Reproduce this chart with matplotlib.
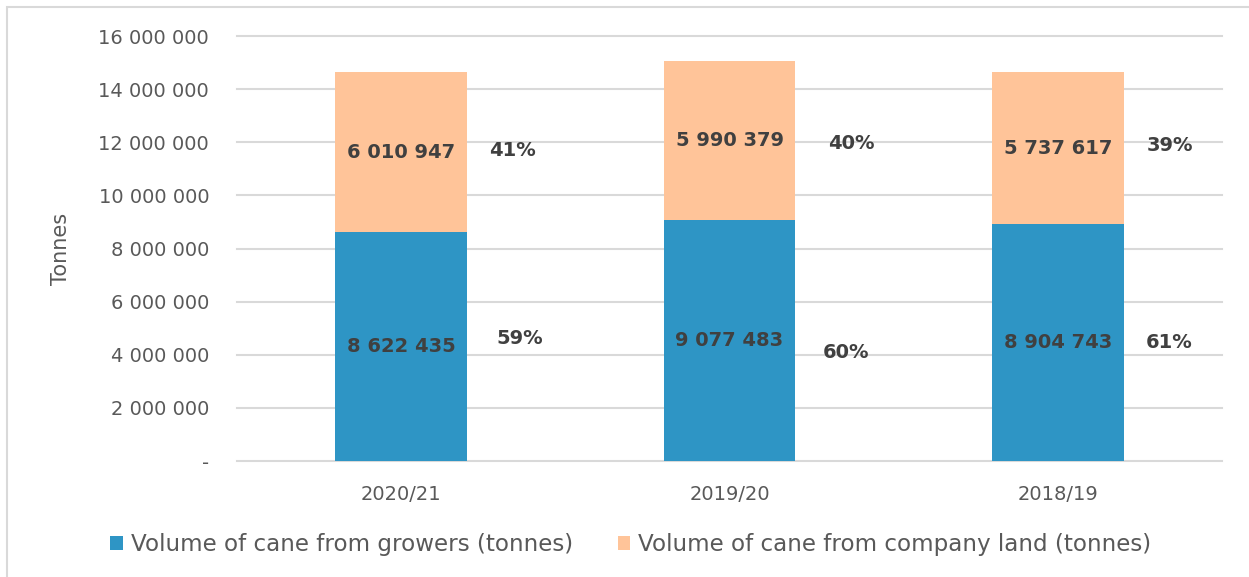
import numpy as np
import matplotlib.pyplot as plt
from matplotlib.patches import Rectangle

seasons = ['2020/21', '2019/20', '2018/19']
growers = [8622435, 9077483, 8904743]
company = [6010947, 5990379, 5737617]
labels = ['Volume of cane from growers (tonnes)', 'Volume of cane from company land (tonnes)']

# where the percentage boxes sit (offset from bar centre, and height)
pct_dx_company = [0.34, 0.37, 0.34]
pct_y_company = [11.7e6, 11.97e6, 11.86e6]
pct_dx_growers = [0.36, 0.355, 0.34]
pct_y_growers = [4.63e6, 4.1e6, 4.48e6]

blue = '#2E95C5'
peach = '#FFC499'
txt = '#404040'
grey = '#595959'

plt.rcParams['font.family'] = ['DejaVu Sans']

fig = plt.figure(figsize=(12.49, 5.77), dpi=100)
ax = fig.add_axes([237/1249, 1-461/577, (1222-237)/1249, (461-36)/577])

x = np.arange(len(seasons))
ax.bar(x, growers, width=0.4, color=blue, label=labels[0], zorder=2)
ax.bar(x, company, width=0.4, bottom=growers, color=peach, label=labels[1], zorder=2)

def fmt(v):
    return '{:,}'.format(v).replace(',', ' ')

for i in range(len(seasons)):
    g, c = growers[i], company[i]
    tot = g + c
    ax.text(x[i], g/2, fmt(g), ha='center', va='center', fontsize=14, fontweight='bold', color=txt, zorder=3)
    ax.text(x[i], g + c/2, fmt(c), ha='center', va='center', fontsize=14, fontweight='bold', color=txt, zorder=3)
    ax.text(x[i] + pct_dx_growers[i], pct_y_growers[i], '{:.0f}%'.format(100*g/tot),
            ha='center', va='center', fontsize=14, fontweight='bold', color=txt)
    ax.text(x[i] + pct_dx_company[i], pct_y_company[i], '{:.0f}%'.format(100*c/tot),
            ha='center', va='center', fontsize=14, fontweight='bold', color=txt)

ax.set_xlim(-0.5, len(seasons) - 0.5)
ax.set_ylim(0, 16e6)
yt = np.arange(0, 16e6 + 1, 2e6)
ax.set_yticks(yt)
ax.set_yticklabels(['-' if v == 0 else fmt(int(v)) for v in yt])
ax.set_xticks(x)
ax.set_xticklabels(seasons)
ax.tick_params(axis='both', length=0, labelsize=14, colors=grey)
ax.tick_params(axis='y', pad=20)
ax.tick_params(axis='x', pad=17)
ax.grid(axis='y', color='#D9D9D9', linewidth=1.5, zorder=0)
for gl in ax.get_ygridlines():
    gl.set_clip_on(False)
ax.set_axisbelow(True)
for s in ax.spines.values():
    s.set_visible(False)
ax.set_ylabel('Tonnes', fontsize=15, color=grey, labelpad=20)

fig.legend(loc='center', bbox_to_anchor=(0.5 + 0.005, 1-545/577), ncol=2, frameon=False,
           fontsize=16.6, labelcolor=grey, handlelength=0.55, handleheight=0.55,
           handletextpad=0.35, columnspacing=1.95)

fig.patches.append(Rectangle((7/1249, -0.1), 1.2, 1-7/577+0.1, transform=fig.transFigure,
                             fill=False, edgecolor='#D9D9D9', linewidth=1.5))

fig.savefig('out.png', dpi=100)
